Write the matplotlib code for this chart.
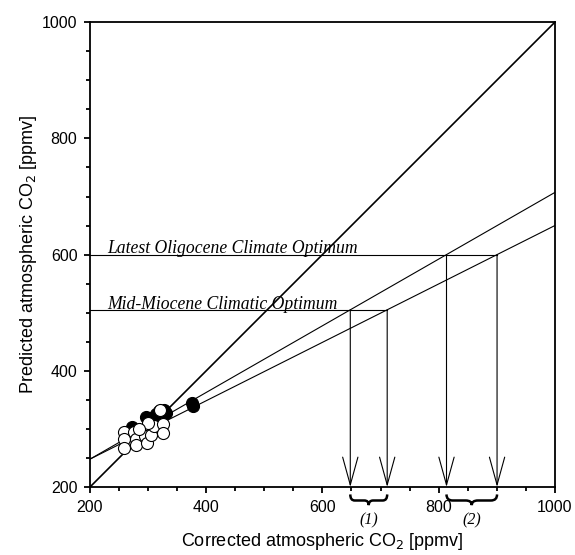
import numpy as np
import matplotlib
matplotlib.use("Agg")
import matplotlib.pyplot as plt
from matplotlib.path import Path
from matplotlib.patches import PathPatch
from matplotlib.transforms import blended_transform_factory

# data
open_x = [258, 258, 258, 275, 280, 280, 290, 295, 298, 305, 310, 325, 325, 320, 300, 285]
open_y = [295, 283, 268, 295, 283, 272, 298, 287, 276, 290, 305, 308, 293, 333, 310, 300]
filled_x = [273, 275, 278, 297, 303, 307, 313, 318, 328, 330, 378, 376]
filled_y = [303, 296, 288, 320, 318, 313, 325, 330, 332, 328, 340, 345]

# regression lines (value at x=200 and x=1000)
lineA = [248, 707]
lineB = [248, 650]
levels = [505, 600]
level_names = ["Mid-Miocene Climatic Optimum", "Latest Oligocene Climate Optimum"]
brace_labels = ["(1)", "(2)"]

serif = ["Liberation Serif", "DejaVu Serif"]
plt.rcParams['font.family'] = ["Liberation Sans", "DejaVu Sans"]

fig = plt.figure(figsize=(5.75, 5.55), dpi=100)
ax = fig.add_axes([0.1565, 0.1225, 0.8085, 0.8375])

xs = np.array([200, 1000])
ax.plot(xs, xs, color='black', lw=1.2)
ax.plot(xs, lineA, color='black', lw=0.8)
ax.plot(xs, lineB, color='black', lw=0.8)

def x_at(line, y):
    slope = (line[1] - line[0]) / 800.0
    return 200 + (y - line[0]) / slope

for lev, name, lab in zip(levels, level_names, brace_labels):
    xa = x_at(lineA, lev)
    xb = x_at(lineB, lev)
    ax.plot([200, xb], [lev, lev], color='black', lw=0.8)
    for xv in (xa, xb):
        ax.annotate("", xy=(xv, 200), xytext=(xv, lev),
                    arrowprops=dict(arrowstyle='->, head_length=2.0, head_width=0.55',
                                    mutation_scale=10, lw=0.8, color='black',
                                    shrinkA=0, shrinkB=0))
    ax.text(229, lev + 2, name, family=serif, style='italic', fontsize=12.7,
            ha='left', va='baseline')

    # curly brace under the axis
    tr = blended_transform_factory(ax.transData, ax.transAxes)
    mid = (xa + xb) / 2
    y0, y1, y2 = -0.016, -0.029, -0.039
    r = (xb - xa) * 0.12
    verts = [(xa, y0), (xa, y1), (xa + r, y1), (mid - r, y1), (mid, y1), (mid, y2),
             (mid, y2), (mid, y1), (mid + r, y1), (xb - r, y1), (xb, y1), (xb, y0)]
    codes = [Path.MOVETO, Path.CURVE3, Path.CURVE3, Path.LINETO, Path.CURVE3, Path.CURVE3,
             Path.MOVETO, Path.CURVE3, Path.CURVE3, Path.LINETO, Path.CURVE3, Path.CURVE3]
    ax.add_patch(PathPatch(Path(verts, codes), transform=tr, fill=False, lw=1.8,
                           color='black', clip_on=False))
    ax.text(mid, -0.072, lab, transform=tr, family=serif, style='italic',
            fontsize=11.5, ha='center', va='center')

ax.scatter(filled_x, filled_y, s=75, facecolor='black', edgecolor='black', lw=0.8, zorder=3)
ax.scatter(open_x, open_y, s=75, facecolor='white', edgecolor='black', lw=0.8, zorder=4)

ax.set_xlim(200, 1000)
ax.set_ylim(200, 1000)
ax.set_xticks(range(200, 1001, 200))
ax.set_yticks(range(200, 1001, 200))
ax.set_xticks(range(200, 1001, 50), minor=True)
ax.set_yticks(range(200, 1001, 50), minor=True)
ax.tick_params(which='major', direction='out', length=4, width=1.3, labelsize=11.5, pad=5)
ax.tick_params(which='minor', direction='out', length=3, width=1.3)
for sp in ax.spines.values():
    sp.set_linewidth(1.3)

ax.set_xlabel("Corrected atmospheric CO$_2$ [ppmv]", fontsize=13, labelpad=12)
ax.set_ylabel("Predicted atmospheric CO$_2$ [ppmv]", fontsize=13, labelpad=2)

fig.savefig("out.png", dpi=100)
